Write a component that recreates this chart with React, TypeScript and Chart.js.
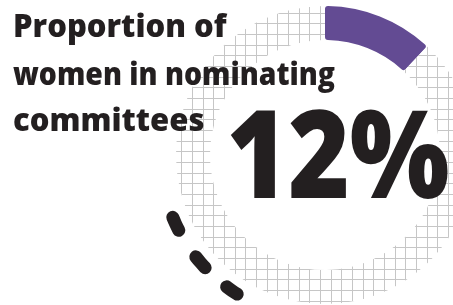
import React, { useEffect, useRef } from "react";
import { Chart, registerables } from "chart.js";

Chart.register(...registerables);

// ---- data ----
const titleLines = ["Proportion of", "women in nominating", "committees"];
const centerLabel = "12%";
const shareLabels = ["Women", "Men"];
const shareValues = [12, 88];
// decorative dashed arc: alternating gap / dash spans, in degrees clockwise from top
const dashSpans = [210, 9, 5.5, 9.5, 6.5, 9.5, 110];

const PURPLE = "#634b93";
const INK = "#231f20";
const GRID = "#c6c6c6";

function makeGridPattern(ctx: CanvasRenderingContext2D): CanvasPattern | string {
  const c = document.createElement("canvas");
  c.width = 32;
  c.height = 32;
  const g = c.getContext("2d");
  if (!g) return GRID;
  g.fillStyle = "#ffffff";
  g.fillRect(0, 0, 32, 32);
  g.strokeStyle = GRID;
  g.lineWidth = 1;
  g.beginPath();
  for (const p of [0.5, 11.5, 21.5]) {
    g.moveTo(p, 0);
    g.lineTo(p, 32);
    g.moveTo(0, p);
    g.lineTo(32, p);
  }
  g.stroke();
  const pat = ctx.createPattern(c, "repeat");
  if (!pat) return GRID;
  try {
    pat.setTransform(new DOMMatrix().translate(0, 2));
  } catch (e) {}
  return pat;
}

const textPlugin = {
  id: "textPlugin",
  afterDatasetsDraw(chart: any) {
    const ctx = chart.ctx as CanvasRenderingContext2D;
    const meta = chart.getDatasetMeta(2);
    const arc = meta.data[0];
    const cx = arc.x;
    const cy = arc.y;
    ctx.save();
    ctx.fillStyle = INK;
    ctx.textBaseline = "alphabetic";
    ctx.textAlign = "left";
    ctx.font = "800 31px 'Open Sans'";
    const baselines = [37, 85, 131];
    const maxW = [217, 322, 192];
    titleLines.forEach((t, i) => {
      ctx.fillText(t, 13, baselines[i], maxW[i]);
    });
    ctx.textAlign = "center";
    ctx.font = "800 122px 'Open Sans'";
    ctx.fillText(centerLabel, cx + 13, cy + 43, 223);
    ctx.restore();
  },
};

export default function App() {
  const ref = useRef<HTMLCanvasElement | null>(null);
  useEffect(() => {
    const canvas = ref.current;
    if (!canvas) return;
    const ctx = canvas.getContext("2d")!;
    const pattern = makeGridPattern(ctx);
    const chart = new Chart(canvas, {
      type: "doughnut",
      data: {
        labels: shareLabels,
        datasets: [
          {
            data: dashSpans,
            backgroundColor: dashSpans.map((_, i) => (i % 2 === 1 ? INK : "rgba(0,0,0,0)")),
            borderWidth: 0,
            borderRadius: 7,
            weight: 13,
            clip: false,
          } as any,
          {
            data: [1],
            backgroundColor: ["rgba(0,0,0,0)"],
            borderWidth: 0,
            weight: 9,
            clip: false,
          } as any,
          {
            data: shareValues,
            backgroundColor: [PURPLE, pattern],
            borderWidth: 0,
            borderRadius: [3, 0] as any,
            weight: 34,
            clip: false,
          } as any,
        ],
      },
      options: {
        animation: false,
        responsive: true,
        maintainAspectRatio: false,
        events: [],
        radius: 171,
        cutout: "67.25%",
        layout: { padding: { left: 197, right: 0, top: 5, bottom: 0 } },
        plugins: {
          legend: { display: false },
          tooltip: { enabled: false },
          title: { display: false },
        },
      } as any,
      plugins: [textPlugin],
    });
    return () => chart.destroy();
  }, []);
  return (
    <div
      style={{
        position: "fixed",
        left: 0,
        top: 0,
        width: 453,
        height: 305,
        background: "#ffffff",
        overflow: "hidden",
      }}
    >
      <canvas ref={ref} />
    </div>
  );
}
